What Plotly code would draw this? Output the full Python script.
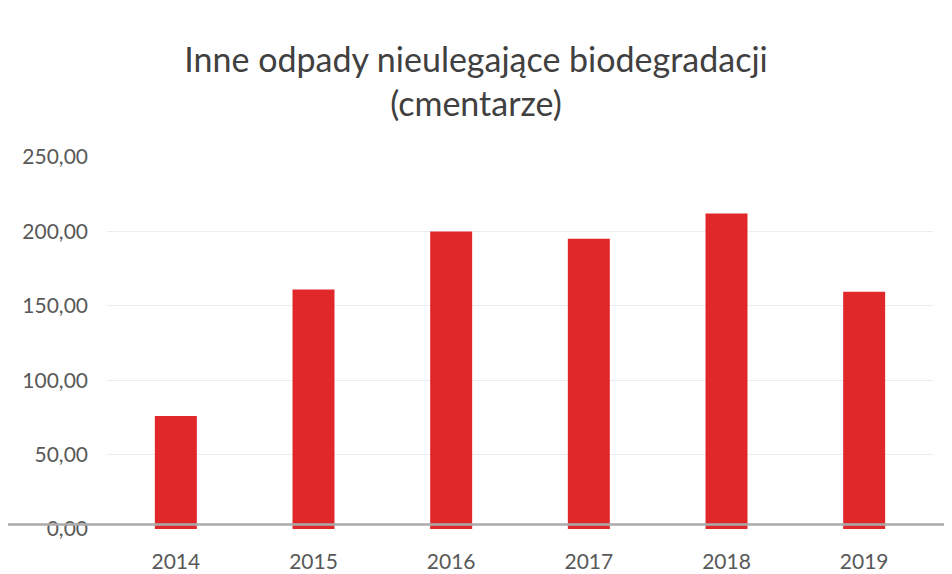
import plotly.graph_objects as go

years = ["2014", "2015", "2016", "2017", "2018", "2019"]
values = [76.0, 161.0, 200.0, 195.0, 212.0, 159.5]
y_ticks = [0, 50, 100, 150, 200, 250]

fig = go.Figure(go.Bar(
    x=years, y=values,
    marker=dict(color="#E0282A", line=dict(width=0)),
))

# page has 8px body margin
W, H = 936, 566
L, R, T, B = 99, 11, 149, 45
pw = W - L - R

fig.update_layout(
    width=W, height=H,
    margin=dict(l=L, r=R, t=T, b=B),
    paper_bgcolor="white", plot_bgcolor="white",
    separators=",.",
    bargap=0.695,
    showlegend=False,
    title=dict(
        text="Inne odpady nieulegające biodegradacji<br>(cmentarze)",
        x=0.5, xanchor="center", y=1 - 64 / H, yanchor="top",
        font=dict(family="Lato, Open Sans, sans-serif", size=34, color="#404040"),
    ),
    font=dict(family="Lato, Open Sans, sans-serif", color="#595959"),
    xaxis=dict(
        automargin=False,
        showgrid=False, showline=False, zeroline=False,
        ticks="", tickfont=dict(size=21, color="#595959"),
        ticklabelstandoff=18,
    ),
    yaxis=dict(
        automargin=False,
        range=[0, 250], tickvals=y_ticks, tickformat=".2f",
        showgrid=True, gridcolor="#ececf0", gridwidth=1,
        zeroline=False, showline=False, ticks="",
        tickfont=dict(size=21, color="#595959"),
        ticklabelstandoff=18,
    ),
    shapes=[dict(
        type="line", xref="paper", yref="y",
        x0=-(L + 8) / pw, x1=(W - L + 8) / pw, y0=3, y1=3,
        line=dict(color="#aaaaaa", width=2.5),
    )],
)

fig.write_html("out.html")
